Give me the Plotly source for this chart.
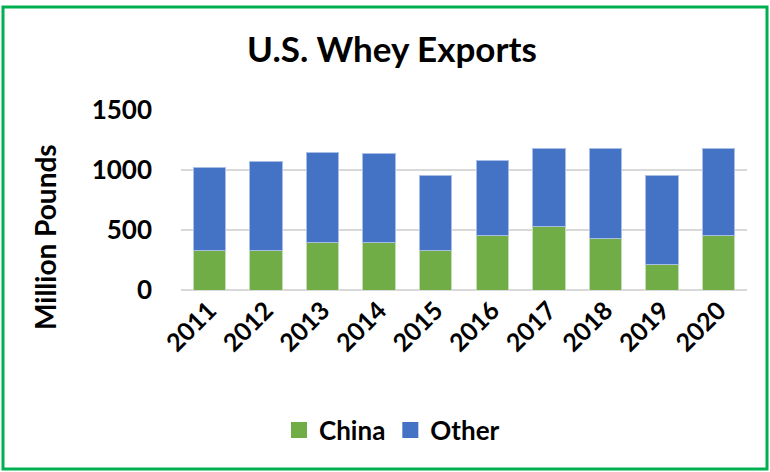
import plotly.graph_objects as go

years = ["2011", "2012", "2013", "2014", "2015", "2016", "2017", "2018", "2019", "2020"]
china = [328, 333, 400, 400, 333, 453, 533, 431, 214, 456]
other = [689, 742, 747, 739, 623, 628, 645, 747, 742, 727]
series_names = ["China", "Other"]
series_colors = ["#70AD47", "#4472C4"]
edge_colors = ["#C5DDB5", "#A9BEE6"]

FONT = "Lato"
W, H = 770, 472
L, R, T, B = 181, 23, 110, 182

fig = go.Figure()
for name, vals, col, edge in zip(series_names, [china, other], series_colors, edge_colors):
    fig.add_trace(go.Bar(x=years, y=vals, name=name, showlegend=False,
                         marker=dict(color=col, line=dict(color=edge, width=1))))
# legend entries with larger square swatches
for name, col in zip(series_names, series_colors):
    fig.add_trace(go.Scatter(x=[None], y=[None], mode="markers", name=f"<b>{name}</b>",
                             marker=dict(symbol="square", size=17, color=col)))

pw = W - L - R
ph = H - T - B
def px(x):
    return (x - L) / pw
def py(y):
    return (H - B - y) / ph

fig.add_shape(type="rect", xref="paper", yref="paper",
              x0=px(3), x1=px(767), y0=py(469), y1=py(7),
              line=dict(color="#00B050", width=3), fillcolor="rgba(0,0,0,0)", layer="below")

fig.add_annotation(text="<b>Million Pounds</b>", xref="paper", yref="paper",
                   x=px(45), y=py(237), xanchor="center", yanchor="middle",
                   textangle=-90, showarrow=False, font=dict(size=28, family=FONT, color="black"))

fig.update_layout(
    width=W, height=H,
    margin=dict(l=L, r=R, t=T, b=B, autoexpand=False),
    barmode="stack", bargap=0.43,
    plot_bgcolor="white", paper_bgcolor="white",
    font=dict(family=FONT, color="black", size=25),
    title=dict(text="<b>U.S. Whey Exports</b>", x=px(392), xanchor="center", xref="paper",
               y=1 - 50 / H, yanchor="middle", font=dict(size=35, family=FONT)),
    xaxis=dict(tickangle=-45, tickfont=dict(size=25, family=FONT),
               showline=False, ticks="", type="category",
               tickvals=years, ticktext=[f"<b>{y}</b>" for y in years]),
    yaxis=dict(range=[0, 1500], tickvals=[0, 500, 1000, 1500],
               ticktext=["<b>0</b>", "<b>500</b>", "<b>1000</b>", "<b>1500</b>"],
               tickfont=dict(size=26, family=FONT),
               gridcolor="#D9D9D9", gridwidth=1.5, zeroline=True, zerolinecolor="#D9D9D9",
               zerolinewidth=1.5, ticks="", ticklabelstandoff=28),
    legend=dict(orientation="h", x=px(392), xanchor="center",
                y=py(430), yanchor="middle", font=dict(size=26, family=FONT),
                itemwidth=30, traceorder="normal", itemclick=False),
)
fig.write_html("out.html", config={"displayModeBar": False},
               post_script="document.body.style.margin='0';document.body.style.overflow='hidden';")
